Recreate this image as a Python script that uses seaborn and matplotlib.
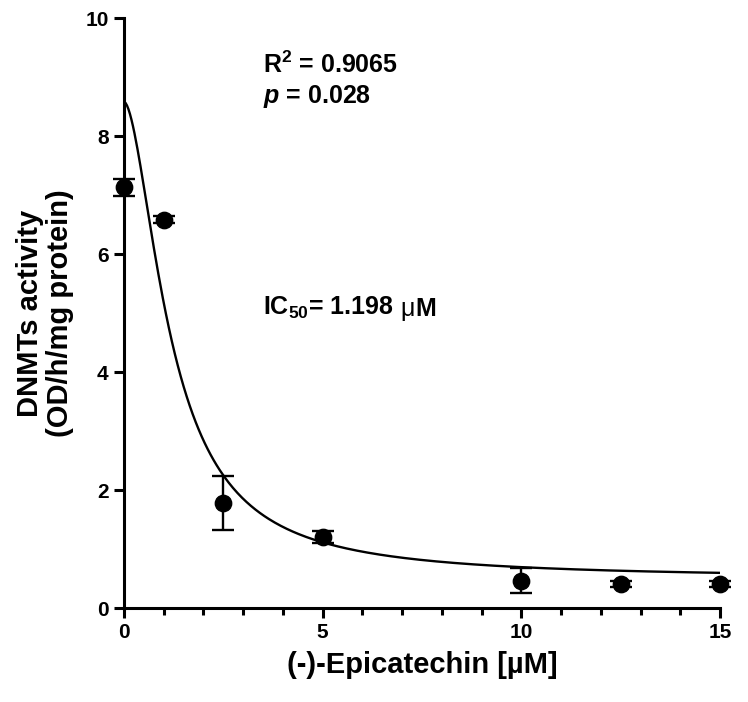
import numpy as np
import pandas as pd
import matplotlib
matplotlib.use("Agg")
import matplotlib.pyplot as plt
from matplotlib.ticker import MultipleLocator
import seaborn as sns

# ---- data ----
conc = [0, 1, 2.5, 5, 10, 12.5, 15]
activity = [7.13, 6.58, 1.78, 1.21, 0.46, 0.40, 0.40]
sem = [0.14, 0.06, 0.46, 0.10, 0.21, 0.05, 0.05]

# fitted 4-parameter logistic
fit_top = 8.58
fit_bottom = 0.50
fit_ic50 = 1.198
fit_hill = 1.75

sns.set_theme(style="ticks")
plt.rcParams["font.family"] = ["Liberation Sans", "DejaVu Sans"]
plt.rcParams["mathtext.fontset"] = "custom"
plt.rcParams["mathtext.rm"] = "Liberation Sans:bold"
plt.rcParams["mathtext.bf"] = "Liberation Sans:bold"
plt.rcParams["mathtext.it"] = "Liberation Sans:bold:italic"
for k in ["text.color", "axes.labelcolor", "xtick.color", "ytick.color", "axes.edgecolor"]:
    plt.rcParams[k] = "black"

fig = plt.figure(figsize=(7.48, 7.02), dpi=100)
ax = fig.add_axes([124 / 748, 1 - 608 / 702, (720 - 124) / 748, (608 - 18) / 702])

xs = np.linspace(0, 15, 400)
ys = fit_bottom + (fit_top - fit_bottom) / (1 + (xs / fit_ic50) ** fit_hill)
curve = pd.DataFrame({"x": xs, "y": ys})
sns.lineplot(data=curve, x="x", y="y", ax=ax, color="black", lw=1.7, zorder=2)

df = pd.DataFrame({"conc": conc, "activity": activity, "sem": sem})
ax.errorbar(df["conc"], df["activity"], yerr=df["sem"], fmt="none",
            ecolor="black", elinewidth=1.7, capsize=8, capthick=1.7,
            zorder=3, clip_on=False)
sns.scatterplot(data=df, x="conc", y="activity", ax=ax, color="black",
                s=140, edgecolor="black", zorder=4, clip_on=False)

ax.set_xlim(0, 15)
ax.set_ylim(0, 10)
ax.xaxis.set_major_locator(MultipleLocator(5))
ax.xaxis.set_minor_locator(MultipleLocator(1))
ax.yaxis.set_major_locator(MultipleLocator(2))

for s in ["top", "right"]:
    ax.spines[s].set_visible(False)
for s in ["left", "bottom"]:
    ax.spines[s].set_linewidth(2.2)
    ax.spines[s].set_color("black")

ax.tick_params(axis="both", which="major", length=7, width=2.2,
               labelsize=15, colors="black", pad=4)
ax.tick_params(axis="x", which="minor", length=5, width=2.2, colors="black")
for lab in ax.get_xticklabels() + ax.get_yticklabels():
    lab.set_fontweight("bold")

ax.set_xlabel("(-)-Epicatechin [µM]", fontsize=21, fontweight="bold", labelpad=6)
ax.set_ylabel("DNMTs activity\n(OD/h/mg protein)", fontsize=21,
              fontweight="bold", labelpad=8, linespacing=1.1)

ax.text(3.5, 9.07, r"R$^{\mathregular{2}}$ = 0.9065", fontsize=18,
        fontweight="bold", ha="left", va="baseline")
ax.text(3.5, 8.56, r"$\mathit{p}$ = 0.028", fontsize=18,
        fontweight="bold", ha="left", va="baseline")
t1 = ax.text(3.5, 4.97, r"IC$_{\mathregular{50}}$= 1.198", fontsize=18,
             fontweight="bold", ha="left", va="baseline")
t2 = ax.annotate("μ", xy=(1, 0), xycoords=t1, xytext=(5, 0),
                 textcoords="offset points", fontsize=18,
                 fontweight="normal", ha="left", va="bottom")
ax.annotate("M", xy=(1, 0), xycoords=t2, xytext=(0, 0),
            textcoords="offset points", fontsize=18,
            fontweight="bold", ha="left", va="bottom")

fig.savefig("out.png", dpi=100)
